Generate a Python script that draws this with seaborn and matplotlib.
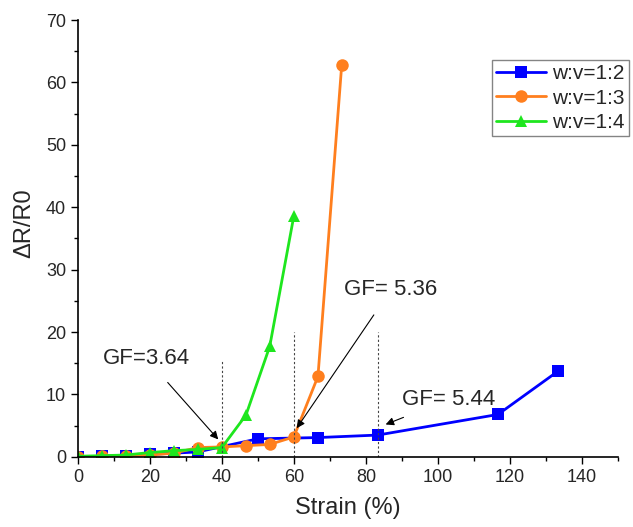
import numpy as np
import pandas as pd
import matplotlib
matplotlib.use("Agg")
import matplotlib.pyplot as plt
import seaborn as sns

sns.set_style("ticks")
plt.rcParams['font.family'] = ['Liberation Sans', 'DejaVu Sans']

# data
strain_12 = [0, 6.7, 13.3, 20, 26.7, 33.3, 50, 66.7, 83.3, 116.7, 133.3]
resp_12 = [0, 0.1, 0.2, 0.4, 0.6, 0.8, 2.9, 3.1, 3.5, 6.8, 13.7]

strain_13 = [0, 6.7, 13.3, 20, 26.7, 33.3, 40, 46.7, 53.3, 60, 66.7, 73.3]
resp_13 = [0, 0.1, 0.2, 0.3, 0.6, 1.5, 1.6, 1.8, 2.0, 3.2, 12.9, 62.8]

strain_14 = [0, 6.7, 13.3, 20, 26.7, 33.3, 40, 46.7, 53.3, 60]
resp_14 = [0.1, 0.2, 0.3, 0.7, 1.0, 1.2, 1.5, 6.7, 17.7, 38.6]

labels = ["w:v=1:2", "w:v=1:3", "w:v=1:4"]
colors = ["#0000FF", "#FF7F1E", "#1EE61E"]
markers = ["s", "o", "^"]

df = pd.concat([
    pd.DataFrame({"Strain": strain_12, "dR": resp_12, "ratio": labels[0]}),
    pd.DataFrame({"Strain": strain_13, "dR": resp_13, "ratio": labels[1]}),
    pd.DataFrame({"Strain": strain_14, "dR": resp_14, "ratio": labels[2]}),
])

fig = plt.figure(figsize=(6.33, 5.27), dpi=100)
ax = fig.add_axes([0.123, 0.133, 0.853, 0.829])

sns.lineplot(data=df, x="Strain", y="dR", hue="ratio", style="ratio",
             palette=colors, markers=markers, dashes=False, sort=False,
             linewidth=2, markersize=9, markeredgewidth=0, ax=ax)

# dashed guide lines
ax.plot([40, 40], [0, 15.3], ls=(0, (2, 2)), color="#444444", lw=0.8)
ax.plot([60, 60], [0, 20], ls=(0, (2, 2)), color="#444444", lw=0.8)
ax.plot([83.3, 83.3], [0, 20], ls=(0, (2, 2)), color="#444444", lw=0.8)

arrow = dict(arrowstyle="-|>", color="black", lw=0.8, mutation_scale=12)
ax.annotate("GF=3.64", xy=(39, 2.8), xytext=(19, 15.8), fontsize=16,
            ha="center", va="center", arrowprops=dict(arrow, shrinkA=10, shrinkB=0))
ax.annotate("GF= 5.36", xy=(60.8, 4.6), xytext=(87, 26.8), fontsize=16,
            ha="center", va="center", arrowprops=dict(arrow, shrinkA=10, shrinkB=0))
ax.annotate("GF= 5.44", xy=(85.5, 5.2), xytext=(103, 9.2), fontsize=16,
            ha="center", va="center", arrowprops=dict(arrow, shrinkA=8, shrinkB=0))

ax.set_xlim(0, 150)
ax.set_ylim(0, 70)
ax.set_xticks(np.arange(0, 141, 20))
ax.set_xticks(np.arange(10, 151, 20), minor=True)
ax.set_yticks(np.arange(0, 71, 10))
ax.set_yticks(np.arange(5, 70, 10), minor=True)
ax.tick_params(axis="both", which="major", labelsize=13, length=5, width=1, color="black")
ax.tick_params(axis="both", which="minor", length=3, width=1, color="black")
ax.set_xlabel("Strain (%)", fontsize=17, labelpad=8)
ax.set_ylabel("ΔR/R0", fontsize=17)
ax.yaxis.set_label_coords(-0.078, 0.535)
for s in ["left", "bottom"]:
    ax.spines[s].set_color("black")
    ax.spines[s].set_linewidth(1.2)
sns.despine(ax=ax)

leg = ax.legend(loc="upper left", bbox_to_anchor=(0.767, 0.908), borderaxespad=0,
                fontsize=15, frameon=True, fancybox=False, edgecolor="#666666",
                handlelength=2.4, borderpad=0.2, labelspacing=0.25, handletextpad=0.3)
leg.get_frame().set_linewidth(1)

plt.savefig("out.png", dpi=100)
